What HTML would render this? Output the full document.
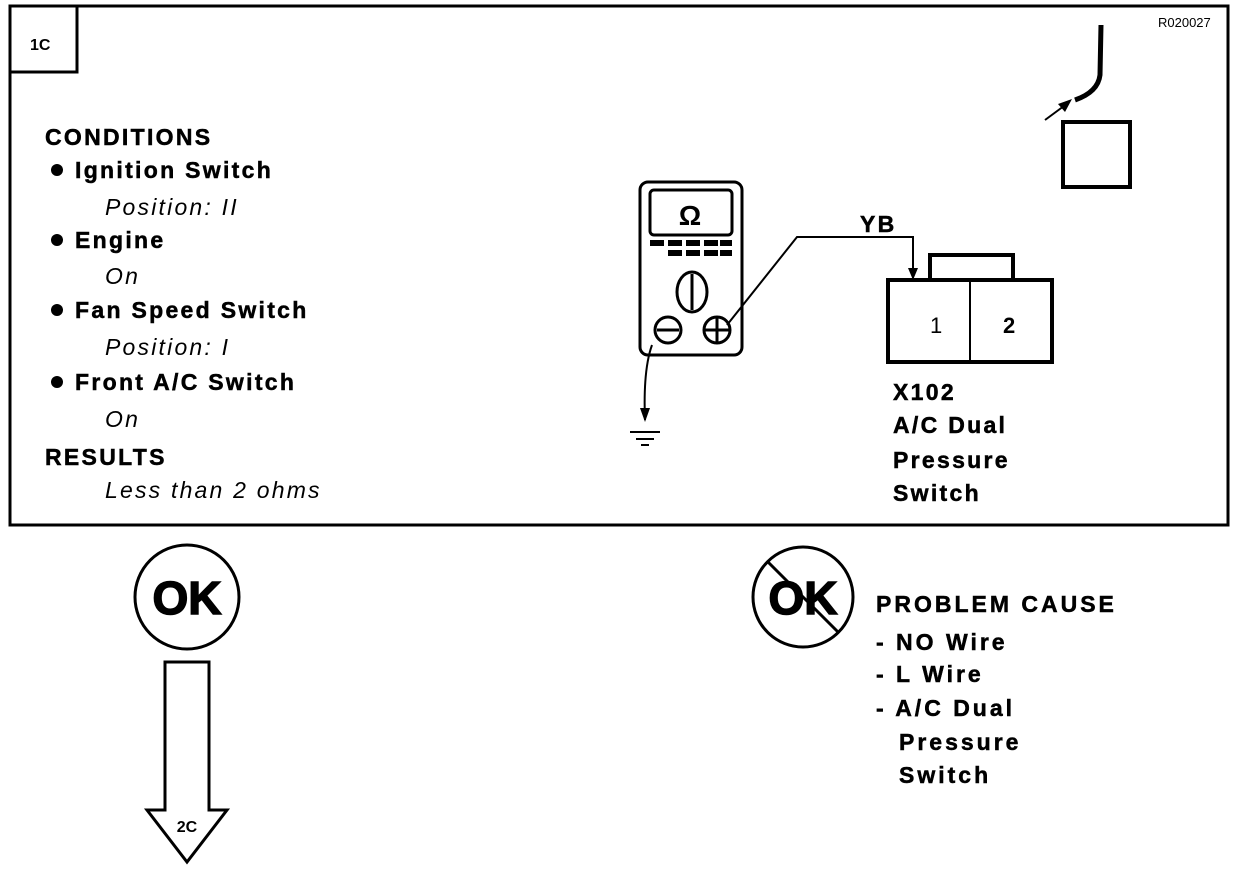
<!DOCTYPE html>
<html><head><style>
html,body{margin:0;padding:0;background:#fff;}
svg{display:block;font-family:"Liberation Sans",Arial,sans-serif;}
.b{font-weight:bold;font-size:23px;letter-spacing:2.3px;stroke:#000;stroke-width:0.5px;}
.i{font-style:italic;font-size:23px;letter-spacing:2.2px;}
.p{font-weight:bold;font-size:23px;letter-spacing:3px;stroke:#000;stroke-width:0.5px;white-space:pre;}
</style></head><body>
<svg width="1248" height="872" viewBox="0 0 1248 872">
<rect x="10" y="6" width="1218" height="519" fill="none" stroke="#000" stroke-width="3"/>
<rect x="10" y="6" width="67" height="66" fill="none" stroke="#000" stroke-width="3"/>
<text x="30" y="50" font-size="16" font-weight="bold">1C</text>
<text x="1158" y="27" font-size="13">R020027</text>
<g class="b">
<text x="45" y="145">CONDITIONS</text>
<text x="75" y="178">Ignition Switch</text>
<text x="75" y="248">Engine</text>
<text x="75" y="318">Fan Speed Switch</text>
<text x="75" y="390">Front A/C Switch</text>
<text x="45" y="465">RESULTS</text>
</g>
<g class="i">
<text x="105" y="215">Position: II</text>
<text x="105" y="284">On</text>
<text x="105" y="355">Position: I</text>
<text x="105" y="427">On</text>
<text x="105" y="498">Less than 2 ohms</text>
</g>
<g fill="#000"><circle cx="57" cy="170" r="6"/><circle cx="57" cy="240" r="6"/><circle cx="57" cy="310" r="6"/><circle cx="57" cy="382" r="6"/></g>
<g fill="none" stroke="#000" stroke-width="3">
<rect x="640" y="182" width="102" height="173" rx="8"/>
<rect x="650" y="190" width="82" height="45" rx="4"/>
<ellipse cx="692" cy="292" rx="15" ry="20"/>
<line x1="692" y1="274" x2="692" y2="310"/>
<circle cx="668" cy="330" r="13"/><line x1="657" y1="330" x2="679" y2="330"/>
<circle cx="717" cy="330" r="13"/><line x1="704" y1="330" x2="730" y2="330"/><line x1="717" y1="317" x2="717" y2="343"/>
</g>
<text x="690" y="225" font-size="28" font-weight="bold" text-anchor="middle">Ω</text>
<g fill="#000">
<rect x="650" y="240" width="14" height="6"/><rect x="668" y="240" width="14" height="6"/><rect x="686" y="240" width="14" height="6"/><rect x="704" y="240" width="14" height="6"/><rect x="720" y="240" width="12" height="6"/>
<rect x="668" y="250" width="14" height="6"/><rect x="686" y="250" width="14" height="6"/><rect x="704" y="250" width="14" height="6"/><rect x="720" y="250" width="12" height="6"/>
</g>
<g fill="none" stroke="#000" stroke-width="2">
<polyline points="727,325 797,237 913,237 913,278"/>
<path d="M652,345 Q643,370 645,420"/>
<line x1="630" y1="432" x2="660" y2="432"/><line x1="636" y1="439" x2="654" y2="439"/><line x1="641" y1="445" x2="649" y2="445"/>
</g>
<polygon points="908,268 918,268 913,280" fill="#000"/>
<polygon points="640,408 650,408 645,422" fill="#000"/>
<text x="860" y="232" class="b" font-size="20">YB</text>
<g fill="none" stroke="#000" stroke-width="4">
<rect x="888" y="280" width="164" height="82"/>
<rect x="930" y="255" width="83" height="25"/>
</g>
<line x1="970" y1="280" x2="970" y2="362" stroke="#000" stroke-width="2"/>
<text x="930" y="333" font-size="22">1</text>
<text x="1003" y="333" font-size="22" font-weight="bold">2</text>
<g class="b">
<text x="893" y="400">X102</text>
<text x="893" y="433">A/C Dual</text>
<text x="893" y="468">Pressure</text>
<text x="893" y="501">Switch</text>
</g>
<rect x="1063" y="122" width="67" height="65" fill="none" stroke="#000" stroke-width="4"/>
<path d="M1101,25 L1100,75 Q1098,92 1075,100" fill="none" stroke="#000" stroke-width="5"/>
<line x1="1045" y1="120" x2="1068" y2="103" stroke="#000" stroke-width="2"/>
<polygon points="1072,99 1058,104 1065,112" fill="#000"/>
<circle cx="187" cy="597" r="52" fill="none" stroke="#000" stroke-width="3"/>
<text x="187" y="614" font-size="46" font-weight="bold" text-anchor="middle" stroke="#000" stroke-width="1.5">OK</text>
<path d="M165,662 L209,662 L209,810 L227,810 L187,862 L147,810 L165,810 Z" fill="none" stroke="#000" stroke-width="3"/>
<text x="187" y="832" font-size="16" font-weight="bold" text-anchor="middle">2C</text>
<circle cx="803" cy="597" r="50" fill="none" stroke="#000" stroke-width="3"/>
<text x="803" y="614" font-size="46" font-weight="bold" text-anchor="middle" stroke="#000" stroke-width="1.5">OK</text>
<line x1="768" y1="562" x2="838" y2="632" stroke="#000" stroke-width="3"/>
<g class="p">
<text x="876" y="612">PROBLEM CAUSE</text>
<text x="876" y="650">-  NO  Wire</text>
<text x="876" y="682">-  L  Wire</text>
<text x="876" y="716">- A/C Dual</text>
<text x="899" y="750">Pressure</text>
<text x="899" y="783">Switch</text>
</g>
</svg>
</body></html>
